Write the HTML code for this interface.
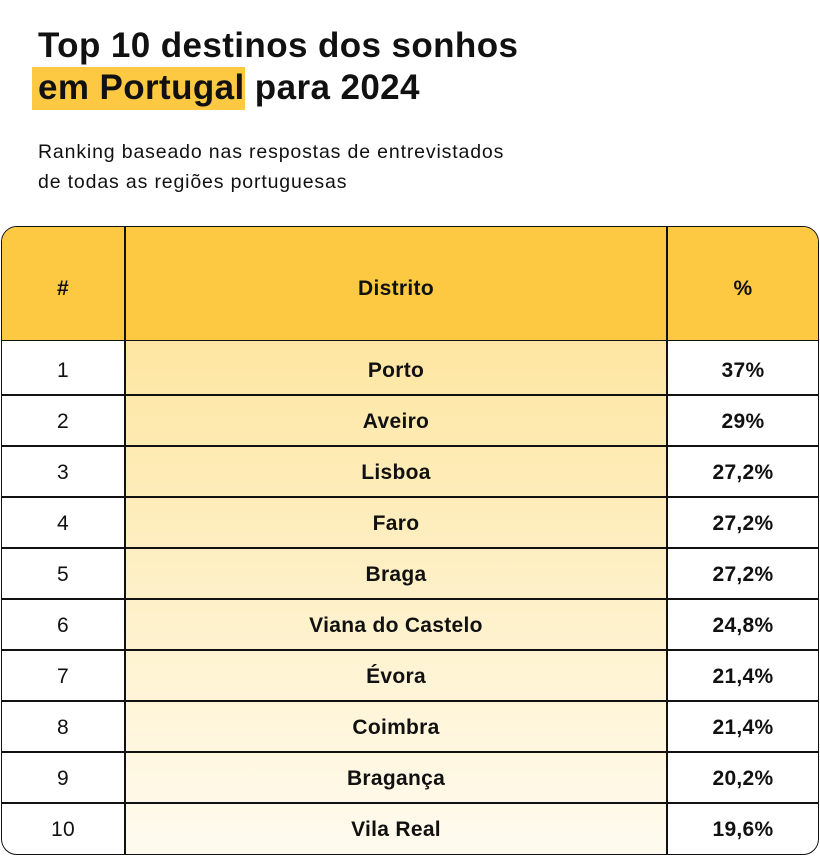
<!DOCTYPE html>
<html><head><meta charset="utf-8"><style>
body{margin:0;width:820px;height:856px;background:#fff;font-family:"Liberation Sans",sans-serif;color:#111;position:relative;overflow:hidden}
.t{position:absolute;left:38px;font-size:35px;font-weight:bold;letter-spacing:0.4px;white-space:nowrap}
.hl{position:absolute;left:32px;top:67px;width:213px;height:43px;background:#fdc943}
.s{position:absolute;left:38px;font-size:19.5px;letter-spacing:0.85px;white-space:nowrap}
.tbl{position:absolute;left:1px;top:226px;width:816px;height:627px;border:1.5px solid #111;border-radius:16px;overflow:hidden;background:#fff}
.hd{position:absolute;left:0;top:0;width:100%;height:113px;background:#fdc943;border-bottom:1.5px solid #111}
.mid{position:absolute;left:124px;top:114px;width:542px;height:520px;background:linear-gradient(#fee6a2,#fffbf0)}
.vl{position:absolute;top:0;width:1.5px;height:100%;background:#111}
.hl2{position:absolute;left:0;width:100%;height:1.5px;background:#111}
.c{position:absolute;text-align:center;font-size:21px;letter-spacing:0.3px}
.b{font-weight:bold}
</style></head><body>
<div class="hl"></div>
<div class="t" style="top:26px">Top 10 destinos dos sonhos</div>
<div class="t" style="top:68px">em Portugal <span style="margin-left:0px">para 2024</span></div>
<div class="s" style="top:141px">Ranking baseado nas respostas de entrevistados</div>
<div class="s" style="top:171px">de todas as regiões portuguesas</div>
<div class="tbl">
<div class="hd"></div>
<div class="mid"></div>
<div class="vl" style="left:122px"></div>
<div class="vl" style="left:664px"></div>
<div class="c b" style="left:0;width:122px;top:50px">#</div>
<div class="c b" style="left:124px;width:540px;top:50px">Distrito</div>
<div class="c b" style="left:666px;width:150px;top:50px">%</div>
<div class="hl2" style="top:167px"></div><div class="hl2" style="top:218px"></div><div class="hl2" style="top:269px"></div><div class="hl2" style="top:320px"></div><div class="hl2" style="top:371px"></div><div class="hl2" style="top:422px"></div><div class="hl2" style="top:473px"></div><div class="hl2" style="top:524px"></div><div class="hl2" style="top:575px"></div>
</div>
<div style="position:absolute;left:0;top:1px">
<div class="c" style="left:1px;width:124px;top:358px">1</div><div class="c b" style="left:125px;width:542px;top:358px">Porto</div><div class="c b" style="left:667px;width:152px;top:358px">37%</div>
<div class="c" style="left:1px;width:124px;top:409px">2</div><div class="c b" style="left:125px;width:542px;top:409px">Aveiro</div><div class="c b" style="left:667px;width:152px;top:409px">29%</div>
<div class="c" style="left:1px;width:124px;top:460px">3</div><div class="c b" style="left:125px;width:542px;top:460px">Lisboa</div><div class="c b" style="left:667px;width:152px;top:460px">27,2%</div>
<div class="c" style="left:1px;width:124px;top:511px">4</div><div class="c b" style="left:125px;width:542px;top:511px">Faro</div><div class="c b" style="left:667px;width:152px;top:511px">27,2%</div>
<div class="c" style="left:1px;width:124px;top:562px">5</div><div class="c b" style="left:125px;width:542px;top:562px">Braga</div><div class="c b" style="left:667px;width:152px;top:562px">27,2%</div>
<div class="c" style="left:1px;width:124px;top:613px">6</div><div class="c b" style="left:125px;width:542px;top:613px">Viana do Castelo</div><div class="c b" style="left:667px;width:152px;top:613px">24,8%</div>
<div class="c" style="left:1px;width:124px;top:664px">7</div><div class="c b" style="left:125px;width:542px;top:664px">Évora</div><div class="c b" style="left:667px;width:152px;top:664px">21,4%</div>
<div class="c" style="left:1px;width:124px;top:715px">8</div><div class="c b" style="left:125px;width:542px;top:715px">Coimbra</div><div class="c b" style="left:667px;width:152px;top:715px">21,4%</div>
<div class="c" style="left:1px;width:124px;top:766px">9</div><div class="c b" style="left:125px;width:542px;top:766px">Bragança</div><div class="c b" style="left:667px;width:152px;top:766px">20,2%</div>
<div class="c" style="left:1px;width:124px;top:817px">10</div><div class="c b" style="left:125px;width:542px;top:817px">Vila Real</div><div class="c b" style="left:667px;width:152px;top:817px">19,6%</div>
</div>
</body></html>
